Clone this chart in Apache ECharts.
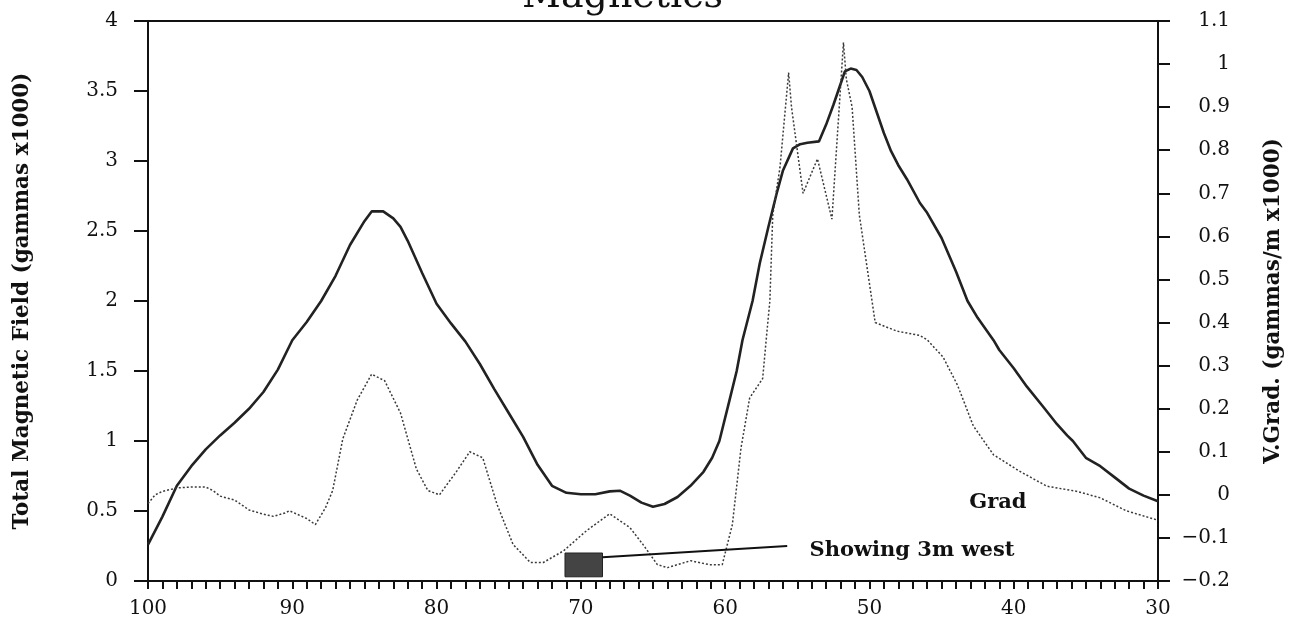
<!DOCTYPE html>
<html>
<head>
<meta charset="utf-8">
<script src="https://cdn.jsdelivr.net/npm/echarts@6/dist/echarts.min.js"></script>
<style>
html,body{margin:0;padding:0;background:#fff;}
#c{width:1290px;height:624px;}
</style>
</head>
<body>
<div id="c"></div>
<script>
// ---- Data ----
const titleText = "Magnetics";
const leftAxisName = "Total Magnetic Field (gammas x1000)";
const rightAxisName = "V.Grad. (gammas/m x1000)";

// Total magnetic field (left axis), distance along line
const totalX = [100, 99, 98, 97, 96, 95, 94, 93, 92, 91, 90, 89, 88, 87, 86, 85, 84.5, 83.7, 83, 82.5, 82, 81, 80, 79, 78, 77, 76, 75, 74, 73, 72, 71, 70, 69, 68, 67.3, 66.6, 65.8, 65, 64.2, 63.3, 62.4, 61.5, 60.9, 60.4, 59.7, 59.2, 58.8, 58.1, 57.6, 57, 56.4, 56, 55.3, 54.8, 54.3, 53.5, 53, 52.5, 52, 51.7, 51.3, 50.9, 50.5, 50, 49.5, 49, 48.5, 48, 47.4, 46.5, 46, 45, 44, 43.2, 42.5, 41.4, 41, 40, 39.1, 38, 37, 36.3, 35.9, 35, 34, 33, 32, 31, 30];
const totalY = [0.26, 0.46, 0.68, 0.82, 0.94, 1.04, 1.13, 1.23, 1.35, 1.51, 1.72, 1.85, 2.0, 2.18, 2.4, 2.57, 2.64, 2.64, 2.59, 2.53, 2.43, 2.2, 1.98, 1.84, 1.71, 1.55, 1.37, 1.2, 1.03, 0.83, 0.68, 0.63, 0.62, 0.62, 0.64, 0.645, 0.61, 0.56, 0.53, 0.55, 0.6, 0.68, 0.78, 0.88, 1.0, 1.29, 1.5, 1.72, 2.0, 2.27, 2.53, 2.78, 2.93, 3.09, 3.12, 3.13, 3.14, 3.26, 3.4, 3.55, 3.64, 3.66, 3.65, 3.6, 3.5, 3.35, 3.2, 3.07, 2.97, 2.87, 2.7, 2.63, 2.45, 2.21, 2.0, 1.88, 1.72, 1.65, 1.52, 1.39, 1.25, 1.12, 1.04, 1.0, 0.88, 0.82, 0.74, 0.66, 0.61, 0.57];

// Vertical gradient (right axis)
const gradX = [100, 99.5, 99, 98, 97, 96, 95.5, 95, 94, 93, 92, 91.3, 90.5, 90.2, 89, 88.4, 87.7, 87.2, 86.5, 85.5, 84.5, 83.6, 82.5, 81.4, 80.6, 79.8, 78.6, 77.7, 76.8, 75.8, 74.7, 73.5, 72.6, 71.2, 69.6, 68, 66.6, 65.7, 64.7, 64, 62.4, 61.1, 60.2, 59.5, 58.9, 58.3, 57.4, 57.1, 56.9, 56.7, 56.2, 55.6, 55.4, 54.6, 53.6, 52.6, 51.8, 51.6, 51.2, 50.7, 49.6, 48.1, 46.5, 46, 44.9, 43.9, 42.8, 41.4, 39.6, 37.7, 35.6, 34, 32.2, 30.1, 30];
const gradY = [-0.02, 0.0, 0.008, 0.016, 0.018, 0.018, 0.01, -0.003, -0.012, -0.035, -0.045, -0.05, -0.042, -0.037, -0.055, -0.069, -0.03, 0.01, 0.13, 0.22, 0.28, 0.265, 0.19, 0.06, 0.01, 0.0, 0.055, 0.1, 0.086, -0.023, -0.115, -0.157, -0.157, -0.13, -0.083, -0.044, -0.076, -0.115, -0.162, -0.169, -0.153, -0.162, -0.162, -0.069, 0.109, 0.225, 0.27, 0.38, 0.45, 0.65, 0.76, 0.98, 0.9, 0.7, 0.78, 0.64, 1.05, 0.965, 0.9, 0.65, 0.4, 0.38, 0.37, 0.36, 0.32, 0.255, 0.16, 0.093, 0.055, 0.02, 0.008, -0.007, -0.037, -0.058, -0.06];

// Annotations (data coordinates on the left axis)
const gradLabel = { text: "Grad", x: 41.1, y: 0.557 };
const showingLabel = { text: "Showing 3m west", x: 47.05, y: 0.214 };
const pointerLine = { from: [68.5, 0.17], to: [55.7, 0.25] };
const markerBox = { from: [71.1, 0.03], to: [68.5, 0.2] };

// ---- Chart ----
const chart = echarts.init(document.getElementById('c'), null, { renderer: 'canvas' });
const serif = "DejaVu Serif";
const ink = "#111111";

const option = {
  backgroundColor: '#ffffff',
  animation: false,
  title: {
    text: titleText,
    left: 517,
    top: -27,
    textStyle: { fontFamily: serif, fontSize: 38, fontWeight: 'normal', color: ink }
  },
  grid: { left: 148, right: 132, top: 21, bottom: 43, containLabel: false, outerBoundsMode: 'none' },
  xAxis: [{
    type: 'value', inverse: true, min: 30, max: 100, interval: 10,
    axisLine: { show: true, onZero: false, lineStyle: { color: ink, width: 2 } },
    axisTick: { show: true, inside: false, length: 8, lineStyle: { color: ink, width: 2 } },
    minorTick: { show: true, splitNumber: 10, length: 8, lineStyle: { color: ink, width: 2 } },
    axisLabel: { margin: 18, fontFamily: serif, fontSize: 20, color: ink },
    splitLine: { show: false }
  }, {
    type: 'value', inverse: true, min: 30, max: 100, position: 'top',
    axisLine: { show: true, onZero: false, lineStyle: { color: ink, width: 2 } },
    axisTick: { show: false }, axisLabel: { show: false }, splitLine: { show: false }
  }],
  yAxis: [{
    type: 'value', min: 0, max: 4, interval: 0.5, position: 'left',
    name: leftAxisName, nameLocation: 'middle', nameGap: 115, nameRotate: 90,
    nameTextStyle: { fontFamily: serif, fontSize: 21.5, fontWeight: 'bold', color: ink },
    axisLine: { show: true, onZero: false, lineStyle: { color: ink, width: 2 } },
    axisTick: { show: true, length: 14, lineStyle: { color: ink, width: 2 } },
    axisLabel: { margin: 30, fontFamily: serif, fontSize: 20, color: ink },
    splitLine: { show: false }
  }, {
    type: 'value', min: -0.2, max: 1.1, interval: 0.1, position: 'right',
    name: rightAxisName, nameLocation: 'middle', nameGap: 104, nameRotate: 90,
    nameTextStyle: { fontFamily: serif, fontSize: 21.5, fontWeight: 'bold', color: ink },
    axisLine: { show: true, onZero: false, lineStyle: { color: ink, width: 2 } },
    axisTick: { show: true, length: 12, lineStyle: { color: ink, width: 2 } },
    axisLabel: {
      margin: 72, align: 'right', fontFamily: serif, fontSize: 20, color: ink,
      formatter: v => String(Math.round(v * 10) / 10).replace('-', '\u2212')
    },
    splitLine: { show: false }
  }],
  series: [{
    name: 'Total Field', type: 'line', xAxisIndex: 0, yAxisIndex: 0,
    data: totalX.map((x, i) => [x, totalY[i]]),
    showSymbol: false, smooth: false,
    lineStyle: { color: '#222222', width: 2.6 }
  }, {
    name: 'Grad', type: 'line', xAxisIndex: 0, yAxisIndex: 1,
    data: gradX.map((x, i) => [x, gradY[i]]),
    showSymbol: false, smooth: false,
    lineStyle: { color: '#3a3a3a', width: 1.5, type: [2, 2] }
  }, {
    name: 'annotations', type: 'line', xAxisIndex: 0, yAxisIndex: 0,
    data: [], silent: true,
    markPoint: {
      symbol: 'rect', symbolSize: [1, 1], silent: true,
      itemStyle: { color: 'rgba(0,0,0,0)' },
      label: { show: true, position: 'inside', fontFamily: serif, fontSize: 21, fontWeight: 'bold', color: ink },
      data: [
        { coord: [gradLabel.x, gradLabel.y], label: { formatter: gradLabel.text } },
        { coord: [showingLabel.x, showingLabel.y], label: { formatter: showingLabel.text } }
      ]
    },
    markLine: {
      silent: true, symbol: 'none',
      lineStyle: { color: ink, width: 2, type: 'solid' },
      label: { show: false },
      data: [[{ coord: pointerLine.from }, { coord: pointerLine.to }]]
    },
    markArea: {
      silent: true,
      itemStyle: { color: '#444444', borderColor: '#222', borderWidth: 1 },
      data: [[{ coord: markerBox.from }, { coord: markerBox.to }]]
    }
  }]
};
chart.setOption(option);
</script>
</body>
</html>
